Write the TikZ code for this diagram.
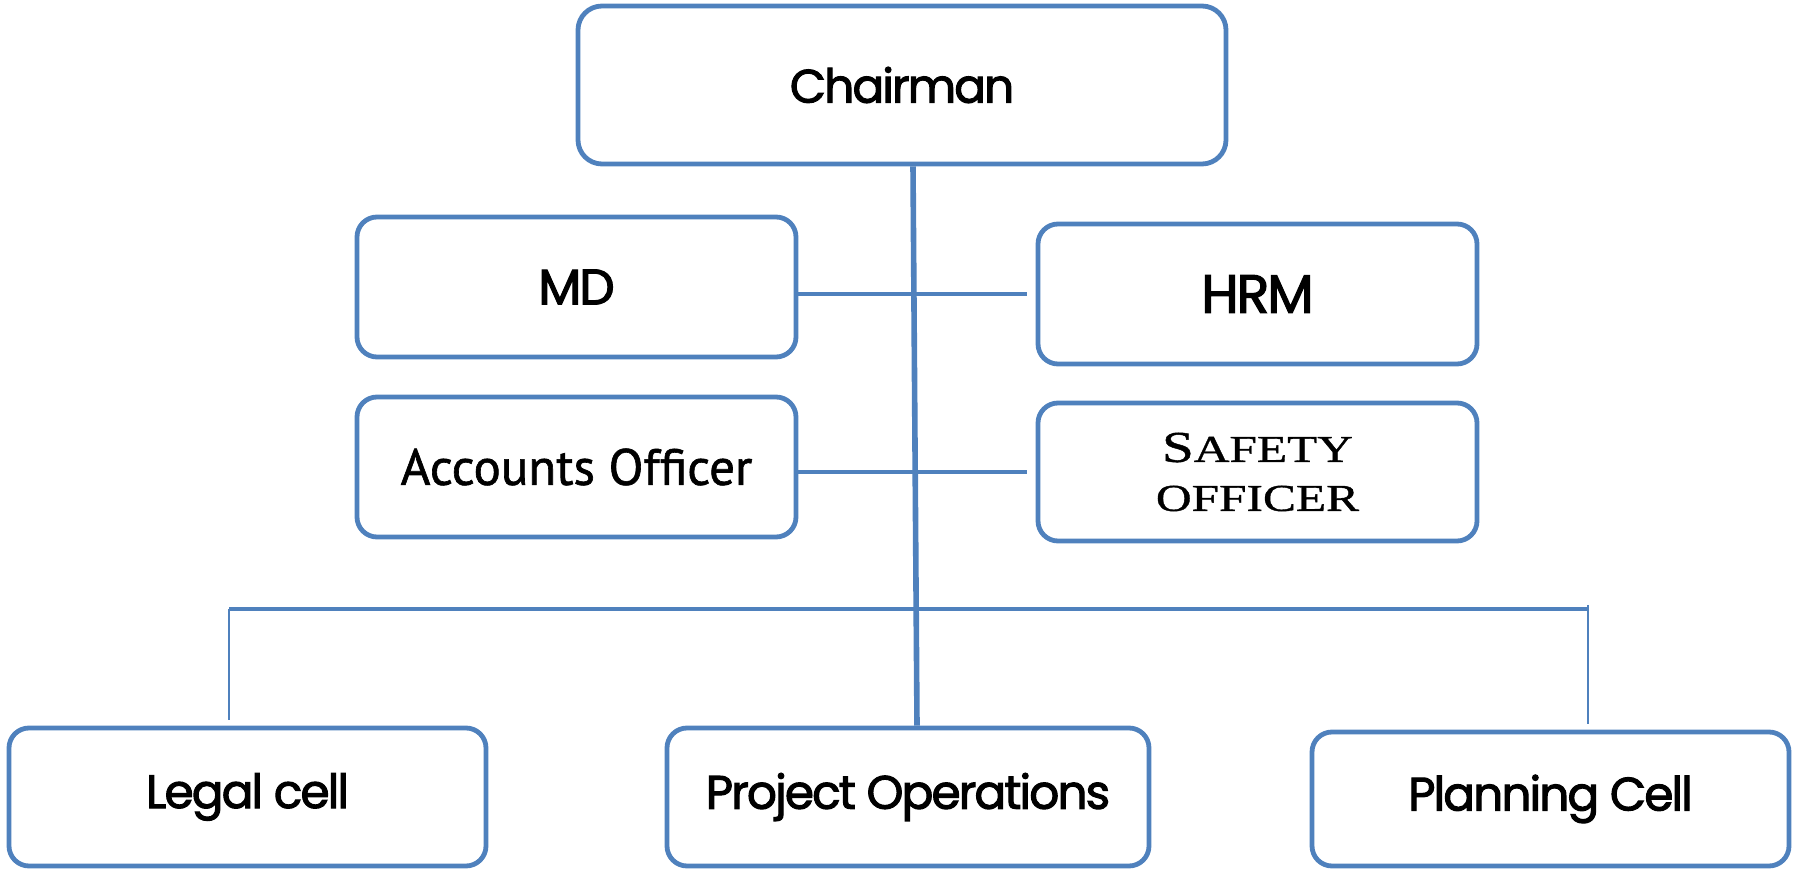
\documentclass[tikz,border=0pt]{standalone}
\usepackage{fontspec}
\usepackage{tikz}
\newfontfamily\gothfont[FakeBold=2.2, LetterSpace=-4]{Poppins}
\newfontfamily\accfont[FakeBold=1.2]{PT Sans}
\newfontfamily\copperfont[FakeStretch=1.3, FakeBold=1]{Liberation Serif}
\definecolor{ln}{RGB}{79, 129, 189}

\begin{document}
\begin{tikzpicture}[
  box/.style={rectangle, rounded corners=10pt, draw=ln, line width=2.4pt, fill=white, inner sep=0pt},
  gtext/.style={font=\gothfont\fontsize{23.5}{28}\selectfont},
  wire/.style={line width=2.1pt, color=ln}]
\useasboundingbox (0pt, 0pt) rectangle (897pt, -435pt);
\node (chairman) [box, rounded corners=12pt, minimum width=324pt, minimum height=79pt, gtext] at (451.0pt, -42.5pt) {\raisebox{-2pt}{Chairman}};
\node (md) [box, minimum width=219.5pt, minimum height=70pt, font=\gothfont\fontsize{25}{28}\selectfont] at (288.25pt, -143.5pt) {MD};
\node (hrm) [box, minimum width=219.5pt, minimum height=70pt, font=\gothfont\fontsize{27}{30}\selectfont] at (628.75pt, -147.0pt) {HRM};
\node (accounts) [box, minimum width=219.5pt, minimum height=70pt, font=\accfont\fontsize{25.5}{30}\selectfont] at (288.25pt, -233.5pt) {Accounts Officer};
\node (safety) [box, minimum width=219.5pt, minimum height=69pt, align=center, font=\copperfont\fontsize{19}{24.5}\selectfont] at (628.75pt, -236.0pt) {{\fontsize{22}{24.5}\selectfont S}AFETY\\ OFFICER};
\node (legal) [box, minimum width=238.5pt, minimum height=69pt, gtext] at (123.75pt, -398.5pt) {\raisebox{-4pt}{Legal cell}};
\node (project) [box, minimum width=241pt, minimum height=69pt, gtext] at (454.0pt, -398.5pt) {\raisebox{-4pt}{Project Operations}};
\node (planning) [box, minimum width=238.5pt, minimum height=67pt, gtext] at (775.25pt, -399.5pt) {\raisebox{-4pt}{Planning Cell}};
\coordinate (busl) at (114.5pt, -304.5pt);
\coordinate (busr) at (794.0pt, -304.5pt);
\draw [wire, line width=2.8pt] ([xshift=5.5pt]chairman.south) to ([xshift=4.5pt]project.north);
\draw [wire, shorten >=4.5pt] (md.east |- hrm.west) to (hrm.west);
\draw [wire, shorten >=4.5pt] (accounts.east |- safety.west) to (safety.west);
\draw [wire] (busl) to (busr);
\draw [wire, line width=1.4pt, shorten >=3pt] (busl) to (busl |- legal.north);
\draw [wire, line width=1.4pt, shorten >=3pt] ([yshift=2pt]busr) to (busr |- planning.north);
\end{tikzpicture}
\end{document}
